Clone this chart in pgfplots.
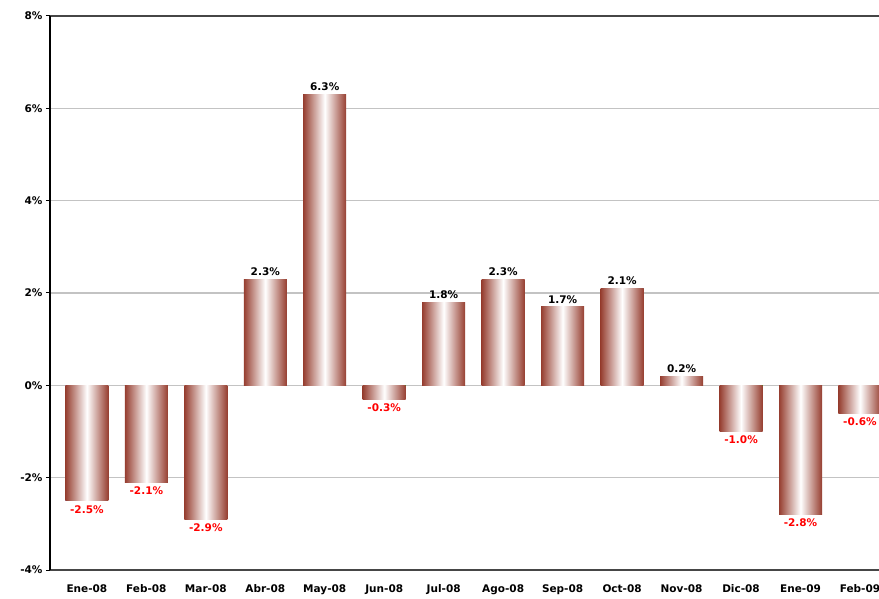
\documentclass[border=0pt]{standalone}
\usepackage{fontspec}
\setmainfont{DejaVu Sans}
\usepackage{pgfplots}
\pgfplotsset{compat=1.18}
\definecolor{barred}{RGB}{150,62,48}
\definecolor{gridgray}{RGB}{195,195,195}
\definecolor{axgray}{RGB}{70,70,70}
\newcommand{\lblfont}{\fontsize{10.5}{12}\selectfont\bfseries}
\begin{document}
\begin{tikzpicture}[x=1pt,y=1pt]
\clip (0,0) rectangle (879,598);
\begin{axis}[
  at={(50pt,28pt)}, anchor=south west,
  scale only axis, width=829pt, height=554pt,
  xmin=-0.62, xmax=13.32, ymin=-4, ymax=8,
  axis x line*=box, axis y line*=left,
  x axis line style={-, draw=axgray, line width=2pt},
  y axis line style={-, draw=black, line width=1.6pt},
  xtick={0,...,13},
  xticklabels={Ene-08,Feb-08,Mar-08,Abr-08,May-08,Jun-08,Jul-08,Ago-08,Sep-08,Oct-08,Nov-08,Dic-08,Ene-09,Feb-09},
  x tick style={draw=none},
  ytick={-4,-2,0,2,4,6,8},
  ytick pos=left, tick align=outside, major tick length=4pt,
  y tick style={black, line width=1pt},
  yticklabel={\pgfmathprintnumber{\tick}\%},
  /pgf/number format/assume math mode=true,
  ticklabel style={font=\lblfont},
  xticklabel style={yshift=-7pt},
  yticklabel style={xshift=0pt},
  ymajorgrids, grid style={gridgray, line width=1.3pt},
  ybar, bar width=43pt, bar shift=0pt,
  every axis plot/.append style={draw=none, left color=barred, right color=barred, middle color=white},
  nodes near coords={\pgfmathprintnumber[fixed,fixed zerofill,precision=1]{\pgfplotspointmeta}\%},
  pos/.style={every node near coord/.style={font=\lblfont, text=black, anchor=south, yshift=0pt}},
  neg/.style={every node near coord/.style={font=\lblfont, text=red, anchor=north, yshift=-1pt}},
]
\addplot+[neg] coordinates {(0,-2.5)};
\addplot+[neg] coordinates {(1,-2.1)};
\addplot+[neg] coordinates {(2,-2.9)};
\addplot+[pos] coordinates {(3,2.3)};
\addplot+[pos] coordinates {(4,6.3)};
\addplot+[neg] coordinates {(5,-0.3)};
\addplot+[pos] coordinates {(6,1.8)};
\addplot+[pos] coordinates {(7,2.3)};
\addplot+[pos] coordinates {(8,1.7)};
\addplot+[pos] coordinates {(9,2.1)};
\addplot+[pos] coordinates {(10,0.2)};
\addplot+[neg] coordinates {(11,-1.0)};
\addplot+[neg] coordinates {(12,-2.8)};
\addplot+[neg] coordinates {(13,-0.6)};
\end{axis}
\end{tikzpicture}
\end{document}
